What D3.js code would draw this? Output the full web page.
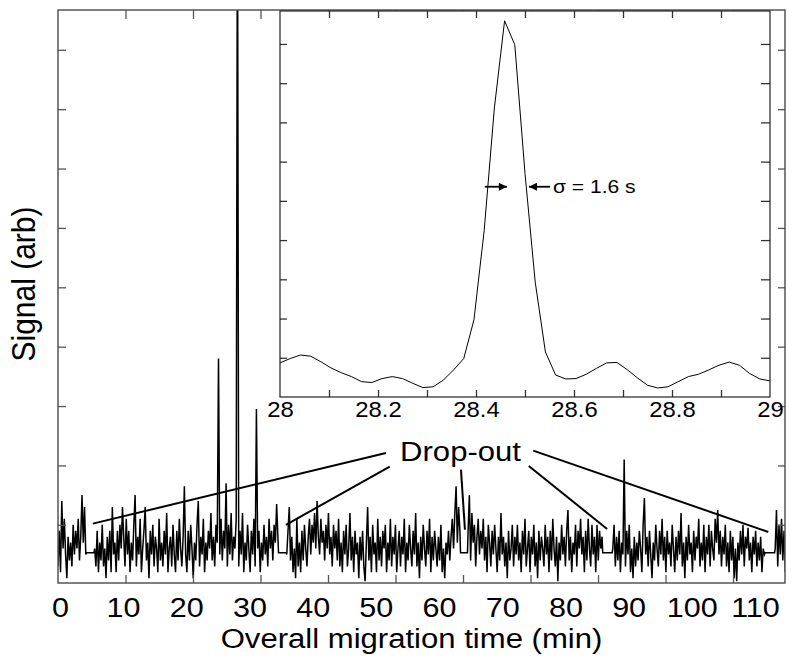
<!DOCTYPE html>
<html><head><meta charset="utf-8">
<script src="https://cdn.jsdelivr.net/npm/d3@7"></script>
<style>
body{margin:0;background:#fff}
svg{display:block}
text{font-family:"Liberation Sans",Arial,Helvetica,sans-serif;fill:#000}
</style>
</head><body>
<svg id="chart" width="795" height="665"></svg>
<script>
// ---------------- DATA ----------------
// Main trace: regularly sampled segments (minutes), separated by drop-outs
const sampleStep = 0.2;
const segmentStarts = [-0.3, 5.5, 35.9, 64.6, 87.5, 113.2];
const segA = [0.3,0.9,0.2,1.4,0.6,1.1,0.5,0.1,0.8,0.4,0.7,0.3,1.0,0.5,0.9,0.6,1.1,0.4,0.8,1.5,0.7,1.3,0.5];
const segB = [0.6,0.3,0.9,0.2,0.7,0.4,1.0,0.3,0.6,0.1,
  0.8,0.4,0.9,0.2,1.3,0.5,0.7,0.2,0.9,0.4,
  1.0,0.6,1.3,0.8,0.3,1.1,0.5,0.9,0.2,0.7,
  0.4,1.0,1.5,0.3,0.8,0.5,1.1,0.2,0.6,0.9,
  1.3,0.4,0.7,0.1,0.9,0.5,1.0,0.3,0.8,0.6,
  0.2,1.1,0.4,0.7,0.3,0.9,0.5,1.2,0.2,0.6,
  0.8,0.3,1.0,0.5,0.2,0.9,0.4,1.1,0.6,0.3,
  0.8,1.65,0.5,0.2,0.9,0.4,1.0,0.6,0.1,0.7,
  0.4,1.0,1.4,0.3,0.8,0.5,1.1,0.2,0.7,0.4,
  0.9,0.6,1.2,0.4,0.8,0.3,1.0,0.7,3.8,0.5,
  1.1,0.4,0.9,0.6,1.7,0.3,1.0,0.5,1.2,0.4,
  0.8,0.6,1.1,12,0.3,0.9,0.5,1.2,0.2,0.7,
  0.4,1.0,0.6,0.2,0.9,0.5,1.1,0.3,2.95,0.6,
  0.9,0.2,0.7,0.4,1.0,0.5,0.8,0.3,1.1,0.6,
  0.9,0.4,1.0,0.7,1.35,0.8];
const segC = [0.5,0.9,1.3,0.4,0.8,0.2,0.6,0.1,1.1,0.3,
  0.7,0.2,0.9,0.4,1.0,0.6,0.3,0.8,1.1,0.5,
  1.0,0.7,1.2,0.6,1.4,0.8,0.5,1.1,0.7,0.9,
  0.4,1.0,0.6,1.2,0.5,0.8,0.3,1.0,0.6,0.9,
  0.4,1.1,0.3,0.7,0.2,0.9,0.5,1.0,0.3,0.6,
  1.2,0.4,0.8,0.2,0.9,0.5,0.7,0.1,0.8,0.4,
  0.9,0.3,0.05,0.7,1.3,0.4,0.8,0.2,1.0,0.5,
  0.7,0.2,1.1,0.4,0.8,0.3,0.9,0.6,1.0,0.2,
  0.7,0.4,1.1,0.3,0.8,0.5,1.0,0.2,0.6,0.9,
  0.3,0.8,0.5,1.1,0.2,0.7,0.4,1.0,0.6,0.3,
  0.9,0.5,1.2,0.3,0.7,0.1,0.8,0.4,1.0,0.6,
  0.3,0.9,0.5,1.1,0.2,0.8,0.4,0.9,0.6,0.3,
  0.8,0.4,1.0,0.2,0.6,0.1,0.7,0.5,0.9,0.4,
  0.8,1.1,0.6,1.2,1.65,0.7,1.3,0.9];
const segD = [0.9,1.5,0.4,1.2,0.7,1.0,0.3,0.8,1.1,0.5,
  0.9,0.6,1.1,0.4,0.8,0.2,1.0,0.7,0.3,0.9,
  0.5,1.0,0.6,0.2,0.8,0.4,1.2,0.5,0.8,0.3,
  0.7,0.1,0.9,0.4,0.6,1.0,0.3,0.8,0.5,1.0,
  0.4,0.7,0.2,0.9,0.5,1.1,0.3,0.6,0.9,0.2,
  0.8,0.5,1.0,0.3,0.7,0.1,0.9,0.4,0.8,0.6,
  0.3,1.0,0.5,0.8,0.2,0.9,0.4,1.1,0.6,0.3,
  0.8,0.05,0.7,0.4,1.0,0.5,0.8,0.3,0.9,1.25,
  0.4,0.8,0.2,0.7,0.5,1.0,0.3,0.9,0.6,1.1,
  0.5,0.8,0.2,0.9,0.4,1.1,0.6,0.3,1.0,0.5,
  0.8,0.2,1.0,0.4,0.9,0.6,0.8];
const segE = [0.6,1.0,0.3,0.8,0.4,0.9,0.2,0.7,0.5,2.1,
  0.3,0.9,0.5,1.0,0.2,0.6,0.1,0.8,0.3,0.7,
  0.4,0.9,0.6,0.2,1.0,1.45,0.5,0.8,0.3,0.9,
  0.5,0.1,0.7,0.4,1.0,0.6,0.3,0.9,0.5,1.1,
  0.4,0.8,0.2,0.9,0.5,0.7,0.3,1.0,0.6,0.2,
  0.8,0.4,0.9,0.5,1.2,0.3,0.7,0.1,0.8,0.4,
  1.0,0.5,0.7,0.2,0.9,0.4,0.8,0.6,1.1,0.3,
  0.7,0.4,1.0,0.2,0.8,0.5,1.0,0.3,0.9,0.6,
  0.4,1.1,0.7,1.25,0.5,0.9,0.3,0.8,0.5,1.0,
  0.3,0.7,0.2,0.9,0.4,0.8,0.1,0.6,0.05,0.7,
  0.4,0.9,0.5,1.0,0.3,0.8,0.6,0.95,0.4,0.7,
  0.2,0.8,0.5,0.9,0.3,0.7,0.4,0.8,0.2,0.6,0.5];
const segF = [0.6,1.25,0.3,1.0,0.5,1.1,0.4,0.9,0.2];
const segments = [segA, segB, segC, segD, segE, segF];
const dropouts = [[4.2,5.4],[34.6,35.8],[63.4,64.5],[85.9,87.4],[111.6,113.1]];
const dropoutLevel = 0.53;

// Inset: 28–29 min, sampled every 1/48 min
const insetStart = 28, insetStep = 1/48;
const insetValues = [0.87,0.98,1.07,1.04,0.90,0.74,0.62,0.52,0.39,0.37,0.47,0.52,0.47,0.35,0.24,0.26,0.43,0.69,0.98,1.97,4.24,7.37,9.59,8.98,5.70,2.93,1.15,0.56,0.46,0.47,0.58,0.73,0.87,0.88,0.70,0.49,0.30,0.23,0.26,0.39,0.52,0.58,0.69,0.81,0.89,0.81,0.60,0.46,0.41];

// Axes / labels
const xLabelValues = [0,10,20,30,40,50,60,70,80,90,100,110];
const xMarkValues = [1,2,3,4,5,6,7,8,9,10];
const yTickValues = [1,2,3,4,5,6,7,8,9];
const insetLabelValues = [28,28.2,28.4,28.6,28.8,29];
const insetMarkValues = [28.1,28.2,28.3,28.4,28.5,28.6,28.7,28.8,28.9];
const xTitle = "Overall migration time (min)";
const yTitle = "Signal (arb)";
const dropLabel = "Drop-out";
const dropLabelPos = [63.4, 2.08];
const dropPointers = [[51.6,2.21,5.22,1.02],[52.2,1.98,35.77,1.0],[63.47,1.93,64.1,0.92],[74.2,1.99,86.6,0.93],[74.9,2.25,112.1,0.88]];
const sigmaLabel = "σ = 1.6 s";
const sigmaLabelPos = [28.557, 5.19];
const sigmaArrows = [[28.418,28.463,5.36],[28.551,28.508,5.36]];

// ---------------- DRAW ----------------
const STRETCH = 1.11;
const svg = d3.select("#chart");
const F = {left:58, right:785, top:10, bottom:583};
const IN = {left:280, right:770, top:11, bottom:397};

const x = d3.scaleLinear().domain([-0.3,114.75]).range([F.left,F.right]);
const y = d3.scaleLinear().domain([0.02,9.67]).range([F.bottom,F.top]);
const xMark = d3.scaleLinear().domain([0,10.77]).range([F.left,F.right]);
const ix = d3.scaleLinear().domain([28,29]).range([IN.left,IN.right]);
const iy = d3.scaleLinear().domain([0,9.84]).range([IN.bottom,IN.top]);

const defs = svg.append("defs");
defs.append("clipPath").attr("id","mainClip").append("rect")
  .attr("x",F.left).attr("y",F.top).attr("width",F.right-F.left).attr("height",F.bottom-F.top);
defs.append("marker").attr("id","arrow").attr("viewBox","0 0 10 10")
  .attr("refX",10).attr("refY",5).attr("markerWidth",9).attr("markerHeight",8)
  .attr("markerUnits","userSpaceOnUse").attr("orient","auto")
  .append("path").attr("d","M0,0L10,5L0,10z").attr("fill","#000");

// build main trace
const trace = [];
segments.forEach((seg,i)=>{
  seg.forEach((v,k)=>trace.push({t:segmentStarts[i]+k*sampleStep, v}));
  if (i < dropouts.length){
    trace.push({t:dropouts[i][0], v:dropoutLevel});
    trace.push({t:dropouts[i][1], v:dropoutLevel});
  }
});

const line = d3.line().x(d=>x(d.t)).y(d=>y(d.v));
svg.append("path").datum(trace).attr("d",line).attr("clip-path","url(#mainClip)")
  .attr("fill","none").attr("stroke","#000").attr("stroke-width",1.5).attr("stroke-linejoin","miter");

function cleanAxis(g, color){
  g.select(".domain").remove();
  g.selectAll("line").attr("stroke",color).attr("stroke-width",1.3);
}
// main tick marks (inward)
svg.append("g").attr("transform",`translate(0,${F.bottom})`)
  .call(d3.axisTop(xMark).tickValues(xMarkValues).tickSize(8).tickFormat(""))
  .call(g=>cleanAxis(g,"#555"));
svg.append("g").attr("transform",`translate(0,${F.top})`)
  .call(d3.axisBottom(xMark).tickValues(xMarkValues).tickSize(9).tickFormat(""))
  .call(g=>cleanAxis(g,"#555"));
svg.append("g").attr("transform",`translate(${F.left},0)`)
  .call(d3.axisRight(y).tickValues(yTickValues).tickSize(8).tickFormat(""))
  .call(g=>cleanAxis(g,"#555"));
svg.append("g").attr("transform",`translate(${F.right},0)`)
  .call(d3.axisLeft(y).tickValues(yTickValues).tickSize(7).tickFormat(""))
  .call(g=>cleanAxis(g,"#555"));

// main frame
svg.append("rect").attr("x",F.left).attr("y",F.top).attr("width",F.right-F.left).attr("height",F.bottom-F.top)
  .attr("fill","none").attr("stroke","#555").attr("stroke-width",1.5);

// main x labels
const xl = svg.append("g").attr("transform",`translate(0,${F.bottom})`)
  .call(d3.axisBottom(x).tickValues(xLabelValues).tickSize(0).tickFormat(d3.format("d")));
xl.select(".domain").remove();
xl.selectAll("text").attr("y",33.7).attr("dy",null).attr("font-size",27.5).attr("fill","#000")
  .attr("font-family",null).attr("transform",`scale(${STRETCH},1)`);

// titles
svg.append("text").attr("transform",`translate(411.5,648) scale(${STRETCH},1)`)
  .attr("text-anchor","middle").attr("font-size",28).text(xTitle);
svg.append("text").attr("transform",`translate(35,284) scale(${STRETCH},1) rotate(-90)`)
  .attr("text-anchor","middle").attr("font-size",30).text(yTitle);

// drop-out annotations
svg.append("g").selectAll("line").data(dropPointers).join("line")
  .attr("x1",d=>x(d[0])).attr("y1",d=>y(d[1])).attr("x2",d=>x(d[2])).attr("y2",d=>y(d[3]))
  .attr("stroke","#000").attr("stroke-width",2);
svg.append("text").attr("transform",`translate(${x(dropLabelPos[0])},${y(dropLabelPos[1])}) scale(${STRETCH},1)`)
  .attr("text-anchor","middle").attr("font-size",28).text(dropLabel);

// ---------------- INSET ----------------
const inset = svg.append("g");
inset.append("rect").attr("x",IN.left).attr("y",IN.top).attr("width",IN.right-IN.left).attr("height",IN.bottom-IN.top)
  .attr("fill","#fff").attr("stroke","none");
const insetData = insetValues.map((v,k)=>({t:insetStart+k*insetStep, v}));
inset.append("path").datum(insetData)
  .attr("d",d3.line().x(d=>ix(d.t)).y(d=>iy(d.v)))
  .attr("fill","none").attr("stroke","#000").attr("stroke-width",1);

inset.append("g").attr("transform",`translate(0,${IN.bottom})`)
  .call(d3.axisTop(ix).tickValues(insetMarkValues).tickSize(7).tickFormat(""))
  .call(g=>cleanAxis(g,"#333"));
inset.append("g").attr("transform",`translate(0,${IN.top})`)
  .call(d3.axisBottom(ix).tickValues(insetMarkValues).tickSize(7).tickFormat(""))
  .call(g=>cleanAxis(g,"#333"));
inset.append("g").attr("transform",`translate(${IN.left},0)`)
  .call(d3.axisRight(iy).tickValues(yTickValues).tickSize(7).tickFormat(""))
  .call(g=>cleanAxis(g,"#333"));
inset.append("g").attr("transform",`translate(${IN.right},0)`)
  .call(d3.axisLeft(iy).tickValues(yTickValues).tickSize(9).tickFormat(""))
  .call(g=>cleanAxis(g,"#333"));
inset.append("rect").attr("x",IN.left).attr("y",IN.top).attr("width",IN.right-IN.left).attr("height",IN.bottom-IN.top)
  .attr("fill","none").attr("stroke","#222").attr("stroke-width",1.2);

const il = inset.append("g").attr("transform",`translate(0,${IN.bottom})`)
  .call(d3.axisBottom(ix).tickValues(insetLabelValues).tickSize(0).tickFormat(d3.format("~g")));
il.select(".domain").remove();
il.selectAll("text").attr("y",19.7).attr("dy",null).attr("font-size",21.5).attr("fill","#000")
  .attr("font-family",null).attr("transform",`scale(${STRETCH},1)`);

inset.append("g").selectAll("line").data(sigmaArrows).join("line")
  .attr("x1",d=>ix(d[0])).attr("x2",d=>ix(d[1])).attr("y1",d=>iy(d[2])).attr("y2",d=>iy(d[2]))
  .attr("stroke","#000").attr("stroke-width",1.8).attr("marker-end","url(#arrow)");
inset.append("text").attr("transform",`translate(${ix(sigmaLabelPos[0])},${iy(sigmaLabelPos[1])}) scale(${STRETCH},1)`)
  .attr("font-size",19).text(sigmaLabel);
</script>
</body></html>
